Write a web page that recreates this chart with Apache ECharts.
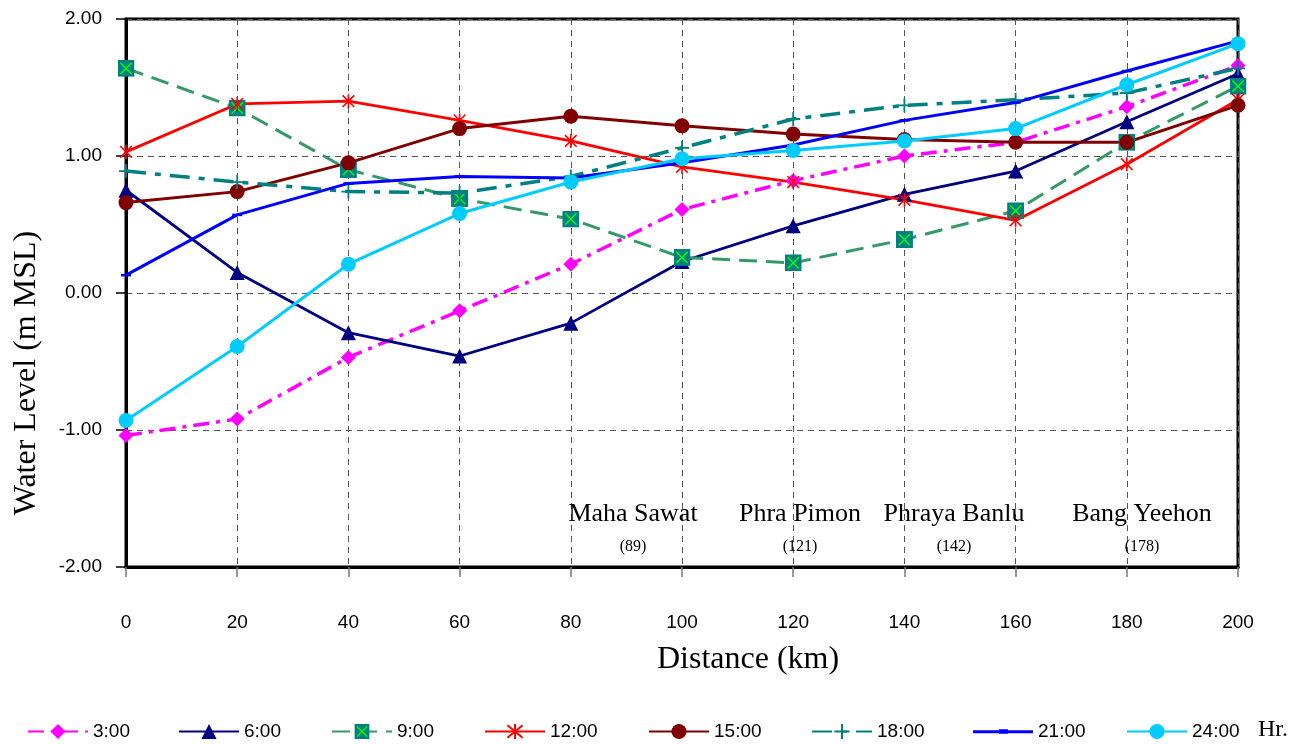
<!DOCTYPE html>
<html>
<head>
<meta charset="utf-8">
<script src="https://cdn.jsdelivr.net/npm/echarts@6/dist/echarts.min.js"></script>
<style>
html,body{margin:0;padding:0;background:#fff;}
#chart{width:1311px;height:744px;}
</style>
</head>
<body>
<div id="chart"></div>
<script>
// ---- data ----
var distanceKm = [0, 20, 40, 60, 80, 100, 120, 140, 160, 180, 200];
var hour0300 = [-1.04, -0.92, -0.47, -0.13, 0.21, 0.61, 0.82, 1.00, 1.10, 1.36, 1.66];
var hour0600 = [0.75, 0.15, -0.29, -0.46, -0.22, 0.23, 0.49, 0.72, 0.89, 1.25, 1.60];
var hour0900 = [1.64, 1.35, 0.90, 0.69, 0.54, 0.26, 0.22, 0.39, 0.60, 1.10, 1.51];
var hour1200 = [1.03, 1.38, 1.40, 1.26, 1.11, 0.92, 0.81, 0.68, 0.53, 0.94, 1.41];
var hour1500 = [0.66, 0.74, 0.95, 1.20, 1.29, 1.22, 1.16, 1.12, 1.10, 1.10, 1.37];
var hour1800 = [0.89, 0.81, 0.74, 0.73, 0.85, 1.06, 1.27, 1.37, 1.41, 1.46, 1.64];
var hour2100 = [0.13, 0.57, 0.80, 0.85, 0.84, 0.95, 1.08, 1.26, 1.39, 1.62, 1.84];
var hour2400 = [-0.93, -0.39, 0.21, 0.58, 0.81, 0.98, 1.04, 1.11, 1.20, 1.52, 1.82];
var seriesNames = ['3:00', '6:00', '9:00', '12:00', '15:00', '18:00', '21:00', '24:00'];
var stationNames = ['Maha Sawat', 'Phra Pimon', 'Phraya Banlu', 'Bang Yeehon'];
var stationKm = ['(89)', '(121)', '(142)', '(178)'];
var yTicks = [-2, -1, 0, 1, 2];

function pairs(ys) { return distanceKm.map(function (x, i) { return [x, ys[i]]; }); }

var squareX = 'image://data:image/svg+xml;charset=utf-8,' + encodeURIComponent(
  "<svg xmlns='http://www.w3.org/2000/svg' width='36' height='36'><rect width='36' height='36' fill='#008080'/><path d='M6,6L30,30M30,6L6,30' stroke='#00ff00' stroke-width='3'/></svg>");
var asterisk = 'path://M0,0L10,10M10,0L0,10M5,-1L5,11';
var plusSym = 'path://M0,5L10,5M5,0L5,10';
var dashSym = 'path://M0,0L12,0L12,3L0,3Z';
var lineDashIcon = 'path://M0,4.5L60,4.5L60,7.5L0,7.5Z M26,3.5L35,3.5L35,8L26,8Z';

var chart = echarts.init(document.getElementById('chart'), null, {renderer: 'canvas'});

var sans = 'Liberation Sans, Arial, sans-serif';
var serif = 'Liberation Serif, Times New Roman, serif';

function mkSeries(name, data, color, lw, type, symbol, size, extraItem) {
  var it = {color: color, opacity: 1};
  if (extraItem) { for (var k in extraItem) it[k] = extraItem[k]; }
  return {
    name: name, type: 'line', data: pairs(data),
    symbol: symbol, symbolSize: size, showSymbol: true, symbolKeepAspect: true,
    lineStyle: {color: color, width: lw, type: type},
    itemStyle: it,
    emphasis: {disabled: true},
    animation: false
  };
}

var series = [
  mkSeries('3:00', hour0300, '#ff00ff', 3.5, [16, 7, 4, 7], 'diamond', 15),
  mkSeries('6:00', hour0600, '#000080', 2.8, 'solid', 'triangle', 15),
  mkSeries('9:00', hour0900, '#339966', 3, [18, 9], squareX, 17),
  mkSeries('12:00', hour1200, '#ff0000', 2.8, 'solid', asterisk, 14, {color: 'rgba(0,0,0,0)', borderColor: '#ff0000', borderWidth: 1.6}),
  mkSeries('15:00', hour1500, '#800000', 3, 'solid', 'circle', 15),
  mkSeries('18:00', hour1800, '#008080', 3.5, [20, 9, 6, 9], plusSym, 14, {color: 'rgba(0,0,0,0)', borderColor: '#008080', borderWidth: 1.8}),
  mkSeries('21:00', hour2100, '#0000ff', 3, 'solid', dashSym, 10),
  mkSeries('24:00', hour2400, '#00ccff', 3, 'solid', 'circle', 15)
];

var legendLeft = [27, 178, 331, 484, 648, 811, 973, 1126];
var legends = seriesNames.map(function (n, i) {
  var isDash = (n === '21:00');
  return {
    data: [isDash ? {name: n, icon: lineDashIcon} : n],
    left: legendLeft[i], top: 722, padding: 0,
    itemWidth: 60, itemHeight: isDash ? 11 : 19, itemGap: 0,
    textStyle: {fontFamily: sans, fontSize: 19, color: '#000'},
    selectedMode: false
  };
});

var stationX = [633, 800, 954, 1142];
var graphics = [];
stationNames.forEach(function (s, i) {
  graphics.push({type: 'text', x: stationX[i], y: 514, z: 50,
    style: {text: s, font: '26px ' + serif, fill: '#000', textAlign: 'center', textVerticalAlign: 'middle'}});
  graphics.push({type: 'text', x: stationX[i], y: 547, z: 50,
    style: {text: stationKm[i], font: '16px ' + serif, fill: '#000', textAlign: 'center', textVerticalAlign: 'middle'}});
});
graphics.push({type: 'text', x: 748, y: 660,
  style: {text: 'Distance (km)', font: '32px ' + serif, fill: '#000', textAlign: 'center', textVerticalAlign: 'middle'}});
graphics.push({type: 'text', x: 27, y: 373, rotation: Math.PI / 2,
  style: {text: 'Water Level (m MSL)', font: '32px ' + serif, fill: '#000', textAlign: 'center', textVerticalAlign: 'middle'}});
graphics.push({type: 'text', x: 1273, y: 730,
  style: {text: 'Hr.', font: '24px ' + serif, fill: '#000', textAlign: 'center', textVerticalAlign: 'middle'}});

var option = {
  backgroundColor: '#fff',
  animation: false,
  grid: {left: 126, right: 73, top: 19, bottom: 177, show: true, borderColor: '#000', borderWidth: 3, backgroundColor: 'transparent'},
  xAxis: {
    type: 'value', min: 0, max: 200, interval: 20,
    axisLine: {show: true, onZero: false, lineStyle: {color: '#000', width: 3}},
    axisTick: {show: true, length: 10, lineStyle: {color: '#777', width: 1.5}},
    axisLabel: {fontFamily: sans, fontSize: 19, color: '#000', margin: 46},
    splitLine: {show: true, lineStyle: {color: '#555', width: 1, type: [6, 5]}}
  },
  yAxis: {
    type: 'value', min: yTicks[0], max: yTicks[yTicks.length - 1], interval: 1,
    axisLine: {show: true, onZero: false, lineStyle: {color: '#000', width: 3}},
    axisTick: {show: true, length: 10, lineStyle: {color: '#000', width: 1.5}},
    axisLabel: {fontFamily: sans, fontSize: 19, color: '#000', margin: 24,
      formatter: function (v) { return v.toFixed(2); }},
    splitLine: {show: true, lineStyle: {color: '#555', width: 1, type: [6, 5]}}
  },
  legend: legends,
  series: series,
  graphic: graphics
};
chart.setOption(option);
</script>
</body>
</html>
